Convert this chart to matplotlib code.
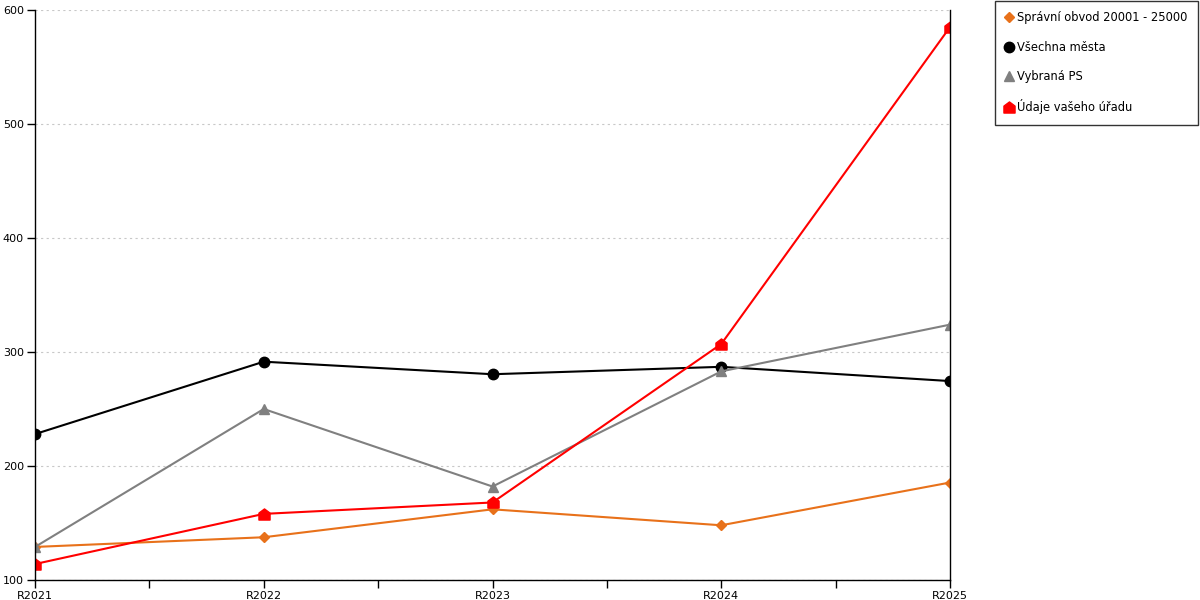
import matplotlib

matplotlib.use("Agg")
import matplotlib.pyplot as plt  # noqa: E402
from matplotlib.path import Path  # noqa: E402

years = ["R2021", "R2022", "R2023", "R2024", "R2025"]
obvod = [129, 137.5, 162, 148, 185.5]
mesta = [228, 291.5, 280.5, 287, 274.5]
vybrana = [129, 250, 182, 283, 324]
urad = [114, 158, 168, 307, 585]

HOUSE = Path([(-1, -1), (1, -1), (1, 0.25), (0, 1), (-1, 0.25), (-1, -1)],
             [Path.MOVETO, Path.LINETO, Path.LINETO, Path.LINETO, Path.LINETO,
              Path.CLOSEPOLY])

SERIES = [
    ("Správní obvod 20001 - 25000", obvod, "#E8711A", "D", 5.5),
    ("Všechna města", mesta, "#000000", "o", 7.5),
    ("Vybraná PS", vybrana, "#808080", "^", 7.5),
    ("Údaje vašeho úřadu", urad, "#FF0000", HOUSE, 8),
]

plt.rcParams["font.family"] = ["DejaVu Sans"]
fig = plt.figure(figsize=(12, 6), dpi=100)
ax = fig.add_axes([35 / 1200, 20 / 600, 915 / 1200, 570 / 600])

x = list(range(len(years)))
handles = []
for label, vals, color, marker, ms in SERIES:
    h, = ax.plot(x, vals, color=color, lw=1.5, marker=marker, ms=ms,
                 mec=color, mfc=color, label=label)
    handles.append(h)

ax.set_xlim(0, len(years) - 1)
ax.set_ylim(100, 600)
ax.set_xticks(x)
ax.set_xticklabels(years)
ax.set_xticks([i + 0.5 for i in x[:-1]], minor=True)
ax.set_yticks([100, 200, 300, 400, 500, 600])
ax.tick_params(axis="both", which="both", direction="out", length=6,
               width=1, labelsize=8, colors="black", pad=2)
ax.grid(axis="y", color="#c8c8c8", linestyle=(0, (2, 3)), linewidth=0.8)
ax.set_axisbelow(True)
ax.spines["top"].set_visible(False)
for side in ("left", "bottom", "right"):
    ax.spines[side].set_color("black")
    ax.spines[side].set_linewidth(1)

leg = fig.legend(handles=handles, loc="upper right",
                 bbox_to_anchor=(1198 / 1200, 599 / 600), fontsize=8.3,
                 frameon=True, fancybox=False, handlelength=0.7,
                 handletextpad=0.35, labelspacing=1.42, borderpad=0.9,
                 borderaxespad=0)
leg.get_frame().set_edgecolor("black")
leg.get_frame().set_linewidth(1)
for line in leg.get_lines():
    line.set_linestyle("none")

fig.savefig("out.png", dpi=100)
